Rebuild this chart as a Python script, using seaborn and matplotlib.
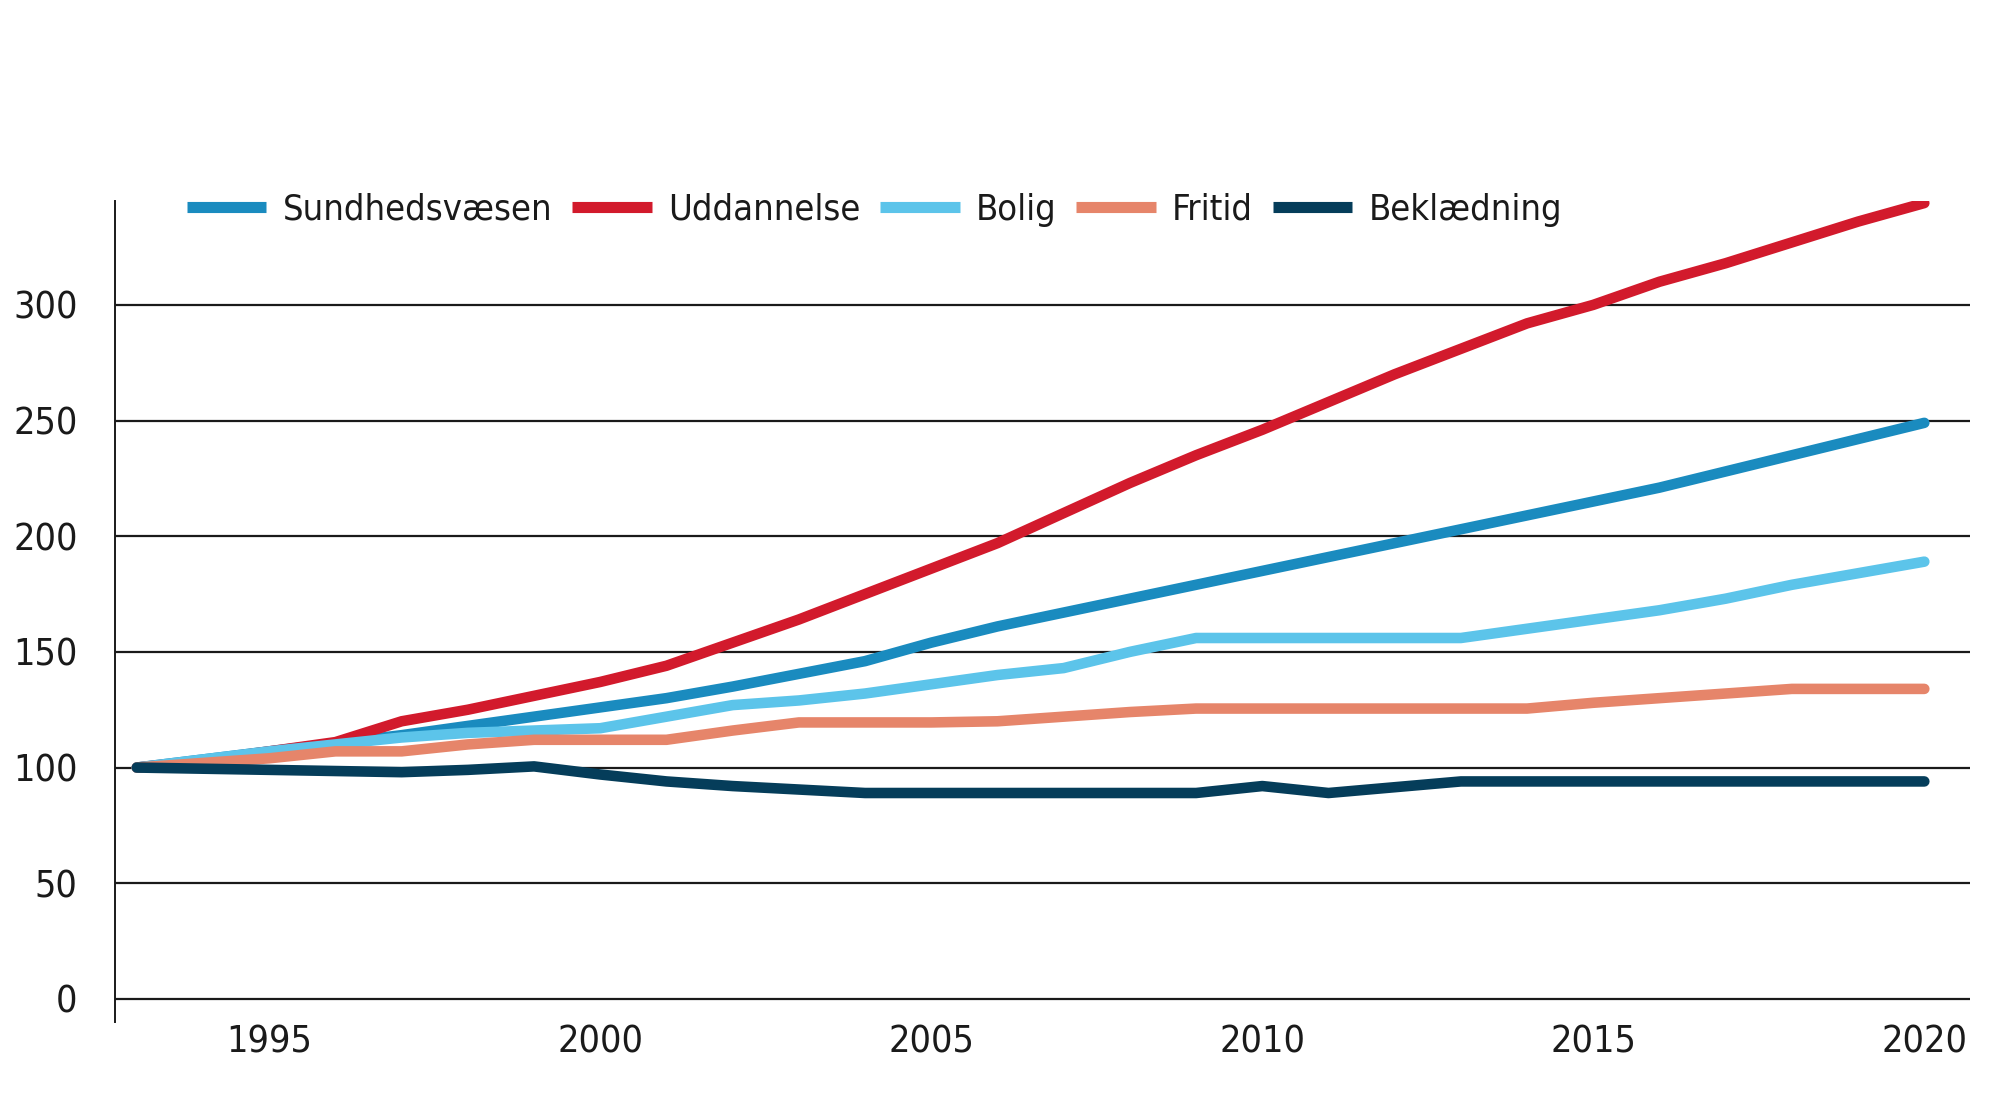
import pandas as pd
import seaborn as sns
import matplotlib.pyplot as plt

years = list(range(1993, 2021))
sundhedsvaesen = [100, 103.5, 107, 110.5, 114, 118, 122, 126, 130, 135, 140.5, 146, 154, 161,
                  167, 173, 179, 185, 191, 197, 203, 209, 215, 221, 228, 235, 242, 249]
uddannelse = [100, 103, 107, 111, 120, 125, 131, 137, 144, 154, 164, 175, 186, 197,
              210, 223, 235, 246, 258, 270, 281, 292, 300, 310, 318, 327, 336, 344]
bolig = [100, 103.5, 107, 110, 113, 115, 116, 117, 122, 127, 129, 132, 136, 140,
         143, 150, 156, 156, 156, 156, 156, 160, 164, 168, 173, 179, 184, 189]
fritid = [100, 102, 104, 107, 107, 110, 112, 112, 112, 116, 119.5, 119.5, 119.5, 120,
          122, 124, 125.5, 125.5, 125.5, 125.5, 125.5, 125.5, 128, 130, 132, 134, 134, 134]
beklaedning = [100, 99.5, 99, 98.5, 98, 99, 100.5, 97, 94, 92, 90.5, 89, 89, 89,
               89, 89, 89, 92, 89, 91.5, 94, 94, 94, 94, 94, 94, 94, 94]

series = ["Sundhedsvæsen", "Uddannelse", "Bolig", "Fritid", "Beklædning"]
colors = ["#1a8bbf", "#d21a2c", "#5cc4ea", "#e6856a", "#053d5a"]
yticks = [0, 50, 100, 150, 200, 250, 300]
xticks = [1995, 2000, 2005, 2010, 2015, 2020]

df = pd.DataFrame({"år": years * 5,
                   "indeks": sundhedsvaesen + uddannelse + bolig + fritid + beklaedning,
                   "serie": sum([[s] * len(years) for s in series], [])})

sns.set_style("white")
plt.rcParams['font.family'] = ['DejaVu Sans']
plt.rcParams['font.stretch'] = 'condensed'

fig = plt.figure(figsize=(20, 11.03), dpi=100)
ax = fig.add_axes([0.0575, 0.0734, 0.9275, 0.7446])

sns.lineplot(data=df, x="år", y="indeks", hue="serie", hue_order=series,
             palette=colors, ax=ax)
for line in ax.lines:
    line.set_linewidth(7.6)
    line.set_solid_capstyle("round")
    line.set_solid_joinstyle("round")

ax.set_xlim(1992.67, 2020.69)
ax.set_ylim(-10, 345)
ax.set_yticks(yticks)
ax.set_xticks(xticks)
ax.set_xlabel("")
ax.set_ylabel("")
ax.yaxis.grid(True, color="#1a1a1a", linewidth=1.6)
ax.set_axisbelow(True)
for s in ["top", "right", "bottom"]:
    ax.spines[s].set_visible(False)
ax.spines["left"].set_color("#1a1a1a")
ax.spines["left"].set_linewidth(1.4)
ax.tick_params(axis="y", length=11, width=1.6, color="#1a1a1a", pad=16,
               labelsize=27, labelcolor="#1a1a1a")
ax.tick_params(axis="x", length=0, pad=2, labelsize=27, labelcolor="#1a1a1a")

handles, labels = ax.get_legend_handles_labels()
ax.get_legend().remove()
leg = fig.legend(handles, labels, ncol=5, loc="center left", bbox_to_anchor=(0.0935, 0.810),
                 frameon=False, fontsize=26, handlelength=2.2, handletextpad=0.45,
                 columnspacing=0.55, borderpad=0, borderaxespad=0, labelcolor="#1a1a1a")
for line in leg.get_lines():
    line.set_linewidth(8)
    line.set_solid_capstyle("butt")

plt.savefig("out.png", dpi=100)
